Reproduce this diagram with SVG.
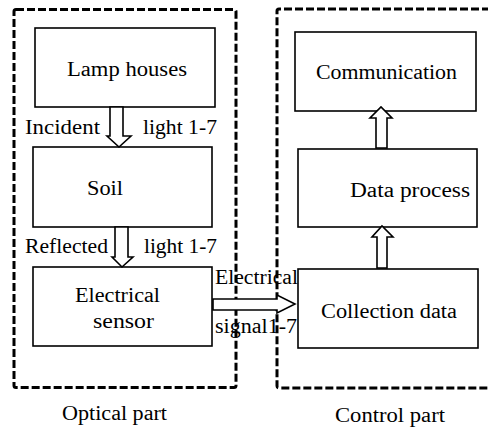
<svg xmlns="http://www.w3.org/2000/svg" width="488" height="430" viewBox="0 0 488 430">
<style>
.bg{fill:#fff}
.grp{fill:none;stroke:#000;stroke-width:3;stroke-dasharray:8 3}
.box{fill:#fff;stroke:#000;stroke-width:1.6}
.arr{fill:#fff;stroke:#000;stroke-width:1.6;stroke-linejoin:miter}
.t{font-family:'Liberation Serif','Times New Roman',serif;font-size:20px;fill:#000}
</style>
<rect class="bg" x="0" y="0" width="488" height="430"/>
<g id="groups">
<rect class="grp" x="14" y="9.5" width="222" height="378" rx="2"/>
<path class="grp" d="M490,9 L279,9 Q277,9 277,11 L277,386 Q277,388 279,388 L490,388"/>
<text class="t" x="62" y="420" textLength="105" lengthAdjust="spacingAndGlyphs">Optical part</text>
<text class="t" x="335" y="422" textLength="110" lengthAdjust="spacingAndGlyphs">Control part</text>
</g>
<g id="lamp">
<rect class="box" x="35" y="28" width="180" height="79"/>
<text class="t" x="67" y="76" textLength="120" lengthAdjust="spacingAndGlyphs">Lamp houses</text>
</g>
<g id="soil">
<rect class="box" x="33" y="147" width="179" height="80"/>
<text class="t" x="87" y="195" textLength="36" lengthAdjust="spacingAndGlyphs">Soil</text>
</g>
<g id="sensor">
<rect class="box" x="33" y="267" width="179" height="79"/>
<text class="t" x="75" y="302" textLength="85" lengthAdjust="spacingAndGlyphs">Electrical</text>
<text class="t" x="93" y="328" textLength="61" lengthAdjust="spacingAndGlyphs">sensor</text>
</g>
<g id="communication">
<rect class="box" x="295" y="32" width="181" height="79"/>
<text class="t" x="316" y="79" textLength="141" lengthAdjust="spacingAndGlyphs">Communication</text>
</g>
<g id="dataprocess">
<rect class="box" x="298" y="149" width="179" height="78"/>
<text class="t" x="350" y="197" textLength="120" lengthAdjust="spacingAndGlyphs">Data process</text>
</g>
<g id="collection">
<rect class="box" x="298" y="269" width="180" height="79"/>
<text class="t" x="321" y="318" textLength="136" lengthAdjust="spacingAndGlyphs">Collection data</text>
</g>
<g id="connectors">
<polygon class="arr" points="110,107 123,107 123,136 131,136 119,147 107,136 110,136"/>
<polygon class="arr" points="115,227 128,227 128,257 133,257 122,267 112,257 115,257"/>
<polygon class="arr" points="376,148 387,148 387,118 392,118 381,107 370,118 376,118"/>
<polygon class="arr" points="377,268 387,268 387,237 393,237 382,226 372,237 377,237"/>
<polygon class="arr" points="213,299 277,299 277,295 295,304 277,313 277,310 213,310"/>
<text class="t" x="25" y="134" textLength="75" lengthAdjust="spacingAndGlyphs">Incident</text>
<text class="t" x="143" y="134" textLength="74" lengthAdjust="spacingAndGlyphs">light 1-7</text>
<text class="t" x="25" y="253" textLength="83" lengthAdjust="spacingAndGlyphs">Reflected</text>
<text class="t" x="144" y="253" textLength="73" lengthAdjust="spacingAndGlyphs">light 1-7</text>
<text class="t" x="215" y="284" textLength="83" lengthAdjust="spacingAndGlyphs">Electrical</text>
<text class="t" x="215" y="333" textLength="82" lengthAdjust="spacingAndGlyphs">signal1-7</text>
</g>
</svg>
